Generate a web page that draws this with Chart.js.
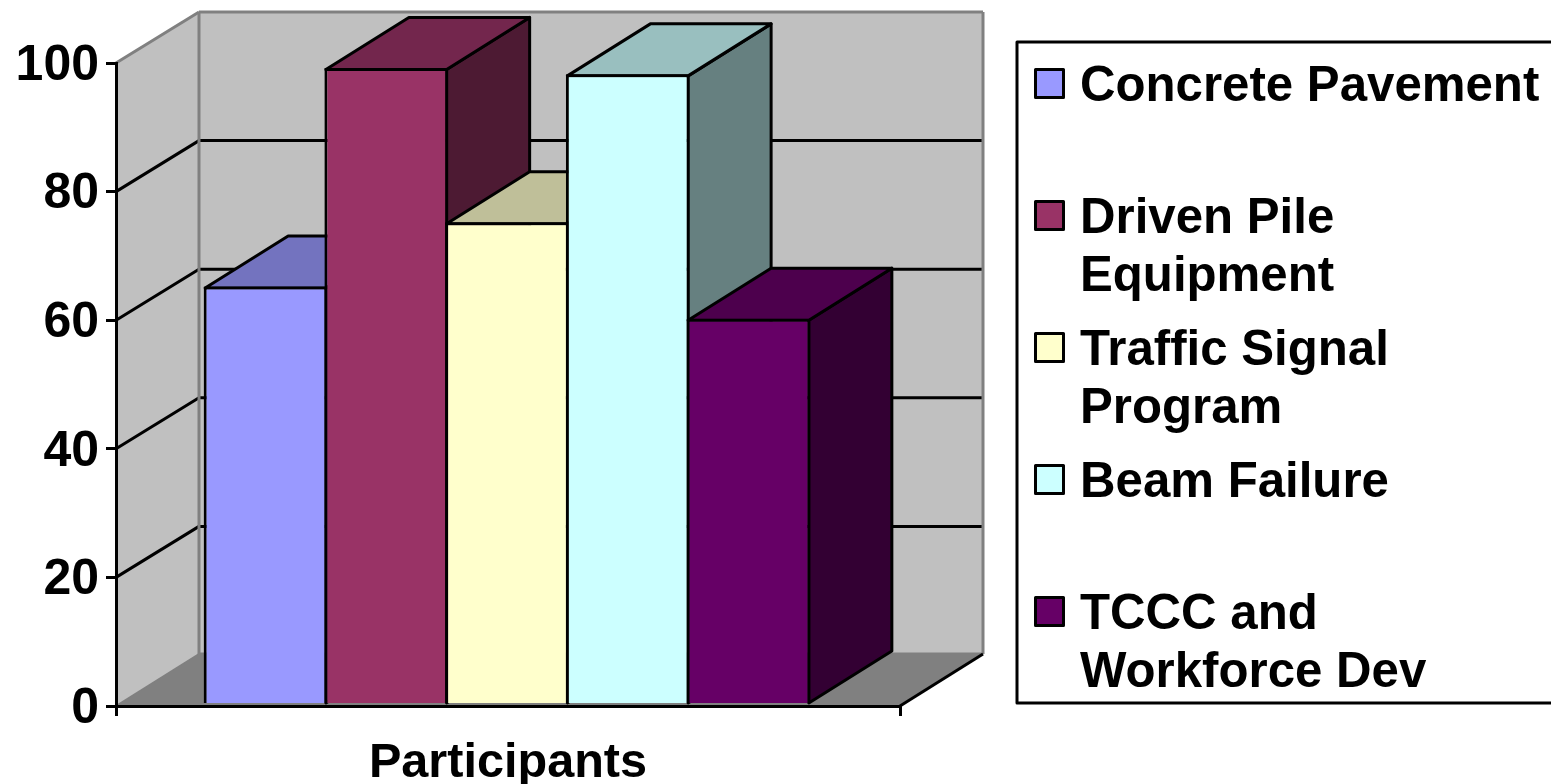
<!DOCTYPE html>
<html>
<head>
<meta charset="utf-8">
<script src="https://cdn.jsdelivr.net/npm/chart.js@4"></script>
<style>
    html, body { margin: 0; padding: 0; background: #fff; overflow: hidden; }
</style>
</head>
<body>
<canvas id="chart" width="1551" height="784"></canvas>
<script>
const categories = ['Participants'];
const seriesNames = ['Concrete Pavement', 'Driven Pile Equipment', 'Traffic Signal Program', 'Beam Failure', 'TCCC and Workforce Dev'];
const seriesValues = [65, 99, 75, 98, 60];
const seriesColors = ['#9999FF', '#993366', '#FFFFCC', '#CCFFFF', '#660066'];
const legendLines = [['Concrete Pavement'], ['Driven Pile', 'Equipment'], ['Traffic Signal', 'Program'], ['Beam Failure'], ['TCCC and', 'Workforce Dev']];
const yTicks = [0, 20, 40, 60, 80, 100];

const FONT = '"Liberation Sans", Arial, sans-serif';
const DEPTH_X = 83;
const DEPTH_Y = 52;
const WALL_Y = 51;
const BAR_LINE = 3;
const BAR_SHIFT = -1; // the bar group sits slightly left of the category centre

// darken a hex colour, used for the top and side of each bar
function shade(hex, f) {
    const n = parseInt(hex.slice(1), 16);
    return `rgb(${((n >> 16) & 255) * f}, ${((n >> 8) & 255) * f}, ${(n & 255) * f})`;
}

function poly(ctx, pts, fill, stroke, width) {
    ctx.beginPath();
    pts.forEach((p, i) => i ? ctx.lineTo(p[0], p[1]) : ctx.moveTo(p[0], p[1]));
    ctx.closePath();
    if (fill) { ctx.fillStyle = fill; ctx.fill(); }
    if (stroke) { ctx.strokeStyle = stroke; ctx.lineWidth = width; ctx.lineJoin = 'round'; ctx.stroke(); }
}

function line(ctx, x1, y1, x2, y2, color, width) {
    ctx.beginPath();
    ctx.moveTo(x1, y1);
    ctx.lineTo(x2, y2);
    ctx.strokeStyle = color;
    ctx.lineWidth = width;
    ctx.stroke();
}

// back wall, left wall, floor and gridlines
const wallsPlugin = {
    id: 'walls',
    beforeDatasetsDraw(chart) {
        const { ctx, chartArea: a, scales: { y } } = chart;
        const l = a.left, r = a.right, t = y.getPixelForValue(100), b = y.getPixelForValue(0);
        const bl = l + DEPTH_X, br = r + DEPTH_X, bt = t - WALL_Y, bb = b - DEPTH_Y;
        ctx.save();
        poly(ctx, [[bl, bt], [br, bt], [br, bb], [bl, bb]], '#C0C0C0');
        poly(ctx, [[l, t], [bl, bt], [bl, bb], [l, b]], '#C0C0C0');
        poly(ctx, [[l, b], [bl, bb], [br, bb], [r, b]], '#808080');
        yTicks.forEach(v => {
            if (v === 0 || v === 100) return;
            const py = y.getPixelForValue(v);
            line(ctx, l, py, bl, py - WALL_Y, '#000', 3);
            line(ctx, bl, py - WALL_Y, br, py - WALL_Y, '#000', 3);
        });
        line(ctx, l, t, bl, bt, '#808080', 3);
        line(ctx, bl, bt, br, bt, '#808080', 3);
        line(ctx, bl, bt, bl, bb, '#808080', 3);
        line(ctx, br, bt, br, bb, '#808080', 3);
        line(ctx, bl, bb, br, bb, '#808080', 3);
        line(ctx, l, b, bl, bb, '#808080', 2);
        line(ctx, r, b, br, bb, '#000', 3);
        ctx.restore();
    },
    // the library would paint the last series first, so hold its own pass back
    beforeDatasetDraw() {
        return false;
    },
    // left to right: side, top, then the library's own front face
    afterDatasetsDraw(chart) {
        const { ctx } = chart;
        const inset = BAR_LINE / 2;
        ctx.save();
        // bar borders are drawn inside the rectangle, lift so the top line sits on the value
        ctx.translate(BAR_SHIFT, -inset);
        seriesNames.forEach((name, i) => {
            const bar = chart.getDatasetMeta(i).data[0];
            const left = bar.x - bar.width / 2 + inset, right = bar.x + bar.width / 2 - inset;
            const top = bar.y + inset, base = bar.base;
            poly(ctx, [[right, top], [right + DEPTH_X, top - DEPTH_Y], [right + DEPTH_X, base - DEPTH_Y], [right, base]], shade(seriesColors[i], 0.5), '#000', BAR_LINE);
            poly(ctx, [[left, top], [left + DEPTH_X, top - DEPTH_Y], [right + DEPTH_X, top - DEPTH_Y], [right, top]], shade(seriesColors[i], 0.75), '#000', BAR_LINE);
            bar.draw(ctx);
        });
        ctx.restore();
    }
};

const boxLegendPlugin = {
    id: 'boxLegend',
    afterDraw(chart) {
        const { ctx } = chart;
        ctx.save();
        ctx.fillStyle = '#fff';
        ctx.strokeStyle = '#000';
        ctx.lineWidth = 3;
        ctx.lineJoin = 'round';
        ctx.fillRect(1017, 42, 540, 661);
        ctx.strokeRect(1017, 42, 540, 661);
        ctx.font = 'bold 49.2px ' + FONT;
        ctx.textBaseline = 'alphabetic';
        legendLines.forEach((lines, i) => {
            const rowY = 83.5 + i * 132;
            ctx.fillStyle = seriesColors[i];
            ctx.fillRect(1035.5, rowY - 14, 28, 28);
            ctx.strokeRect(1035.5, rowY - 14, 28, 28);
            ctx.fillStyle = '#000';
            lines.forEach((text, j) => ctx.fillText(text, 1080, rowY + 17 + j * 58));
        });
        ctx.restore();
    }
};

new Chart(document.getElementById('chart'), {
    type: 'bar',
    data: {
        labels: categories,
        datasets: seriesNames.map((name, i) => ({
            label: name,
            data: [seriesValues[i]],
            backgroundColor: seriesColors[i],
            borderColor: '#000',
            borderWidth: BAR_LINE,
        })),
    },
    options: {
        responsive: false,
        animation: false,
        events: [],
        layout: { padding: { left: 0, right: 651, top: 63, bottom: 0 } },
        // a little over 1 so neighbouring bars share one border line
        datasets: { bar: { categoryPercentage: 0.77, barPercentage: 1.025 } },
        plugins: { legend: { display: false }, tooltip: { enabled: false } },
        scales: {
            x: {
                afterFit: s => { s.height = 78; },
                grid: { drawOnChartArea: false, color: '#000', lineWidth: 3, tickLength: 10, z: 1 },
                border: { color: '#000', width: 3, z: 1 },
                ticks: { color: '#000', font: { family: FONT, size: 48.6, weight: 'bold' }, padding: 18 },
            },
            y: {
                min: 0,
                max: 100,
                afterFit: s => { s.width = 116; },
                afterBuildTicks: s => { s.ticks = yTicks.map(v => ({ value: v })); },
                grid: { drawOnChartArea: false, color: '#000', lineWidth: 3, tickLength: 10, z: 1 },
                border: { color: '#000', width: 3, z: 1 },
                ticks: { color: '#000', font: { family: FONT, size: 50, weight: 'bold' }, padding: 7, labelOffset: 3 },
            },
        },
    },
    plugins: [wallsPlugin, boxLegendPlugin],
});
</script>
</body>
</html>
